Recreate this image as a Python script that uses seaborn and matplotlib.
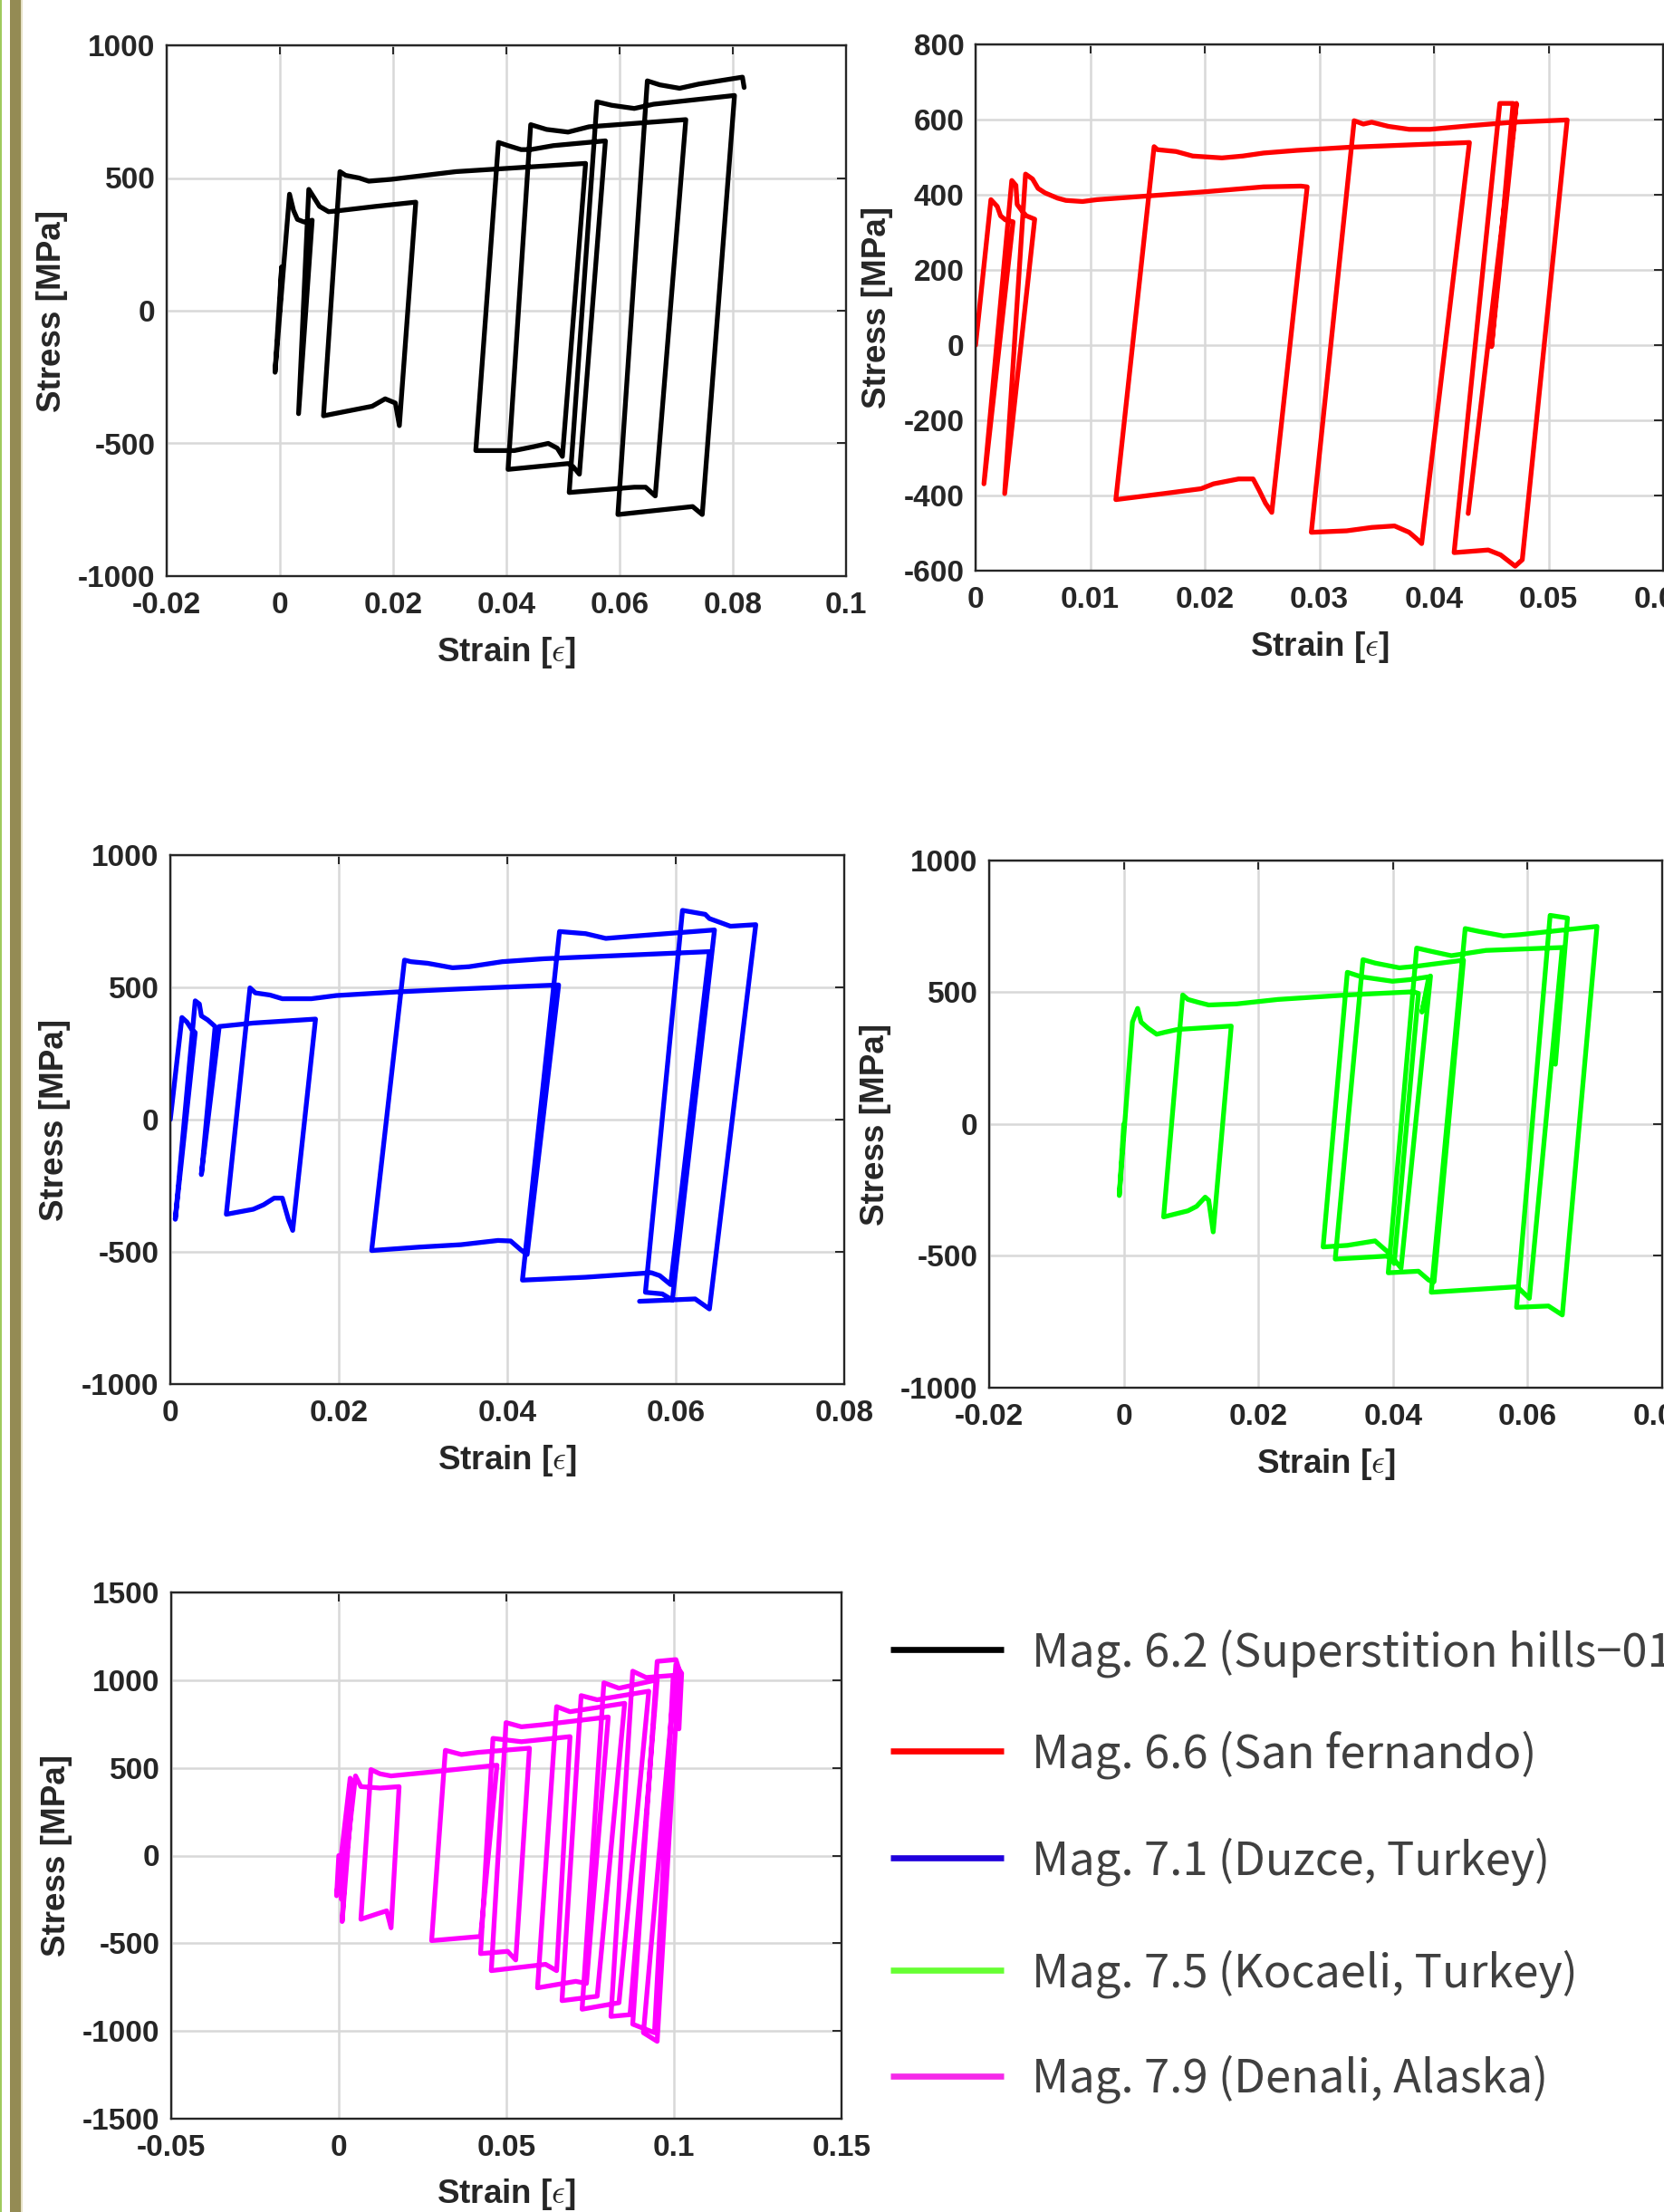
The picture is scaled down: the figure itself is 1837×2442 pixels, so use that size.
import matplotlib
matplotlib.use("Agg")
import matplotlib.pyplot as plt
import seaborn as sns
from matplotlib.ticker import FuncFormatter, MultipleLocator
from matplotlib.lines import Line2D
from matplotlib.patches import Rectangle

# ---------------------------------------------------------------------------
# Stress-strain hysteresis paths (strain [-], stress [MPa]) for each record
# ---------------------------------------------------------------------------
strain_m62 = [0, 0.0003, -0.00086, 0.0017, 0.0024, 0.0031, 0.0043, 0.0057, 0.0033, 0.0051,
              0.0060, 0.0070, 0.0086, 0.0101, 0.0169, 0.0240, 0.0211, 0.0204, 0.0186, 0.0163,
              0.0077, 0.0106, 0.0116, 0.0140, 0.0157, 0.0197, 0.0311, 0.0540, 0.0499, 0.0490,
              0.0474, 0.0449, 0.0414, 0.0346, 0.0386, 0.0403, 0.0426, 0.0443, 0.0483, 0.0575,
              0.0529, 0.0518, 0.0509, 0.0403, 0.0443, 0.0471, 0.0509, 0.0546, 0.0717, 0.0663,
              0.0646, 0.0626, 0.0511, 0.0560, 0.0586, 0.0626, 0.0660, 0.0803, 0.0746, 0.0729,
              0.0597, 0.0649, 0.0671, 0.0706, 0.0740, 0.0817, 0.0820]
stress_m62 = [0, 165, -232, 439, 378, 344, 334, 341, -388, 457,
              427, 393, 373, 376, 393, 409, -433, -348, -332, -360,
              -396, 524, 510, 500, 488, 495, 524, 555, -549, -518,
              -500, -512, -527, -527, 634, 622, 607, 607, 622, 640,
              -616, -588, -576, -598, 701, 683, 673, 693, 720, -698,
              -665, -665, -685, 787, 774, 762, 778, 811, -768, -738,
              -768, 866, 851, 838, 854, 880, 841]

strain_m66 = [0, 0.00134, 0.00189, 0.00218, 0.00261, 0.00327, 0.00073, 0.00316, 0.00352, 0.00363,
              0.00407, 0.00443, 0.00516, 0.00254, 0.00436, 0.00497, 0.00545, 0.00606, 0.00715, 0.00788,
              0.00933, 0.0106, 0.01423, 0.02004, 0.02513, 0.0284, 0.02894, 0.02585, 0.02531, 0.02476,
              0.02422, 0.02295, 0.02077, 0.01968, 0.01641, 0.01224, 0.01558, 0.01587, 0.0175, 0.01895,
              0.0215, 0.02331, 0.02513, 0.02803, 0.03239, 0.0431, 0.03893, 0.03849, 0.03784, 0.03656,
              0.03457, 0.03239, 0.0293, 0.03304, 0.03384, 0.03457, 0.03602, 0.03784, 0.03965, 0.04328,
              0.04691, 0.05163, 0.04771, 0.04709, 0.04637, 0.04582, 0.04474, 0.04176, 0.04575, 0.04691,
              0.04503, 0.0472, 0.04299]
stress_m66 = [0, 387, 369, 344, 333, 328, -369, 438, 425, 374,
              356, 344, 335, -395, 455, 442, 417, 405, 391, 385,
              382, 387, 395, 408, 421, 423, 421, -445, -421, -387,
              -356, -356, -369, -382, -395, -411, 528, 520, 515, 503,
              498, 503, 511, 518, 526, 539, -528, -515, -498, -481,
              -485, -494, -498, 597, 588, 593, 582, 574, 574, 584,
              593, 599, -571, -588, -571, -558, -545, -552, 643, 643,
              -4, 643, -448]

strain_m71 = [0, 0.00138, 0.00197, 0.00256, 0.00296, 0.00059, 0.00296, 0.00345, 0.00369, 0.00443,
              0.00532, 0.00369, 0.00581, 0.00985, 0.01724, 0.01453, 0.01404, 0.0133, 0.01232, 0.01108,
              0.00985, 0.00665, 0.00946, 0.0101, 0.01182, 0.0133, 0.01675, 0.0197, 0.0271, 0.0345,
              0.0461, 0.04236, 0.04163, 0.0404, 0.0389, 0.0345, 0.0296, 0.0239, 0.0278, 0.02857,
              0.03054, 0.0335, 0.03547, 0.0394, 0.0443, 0.0640, 0.0594, 0.0581, 0.0571, 0.0493,
              0.0418, 0.0462, 0.0493, 0.0517, 0.0552, 0.0646, 0.0596, 0.0584, 0.0564, 0.0608,
              0.0635, 0.0640, 0.0665, 0.0695, 0.0640, 0.0623, 0.0557]
stress_m71 = [0, 386, 369, 340, 329, -377, 449, 437, 392, 377,
              352, -208, 352, 365, 380, -419, -379, -297, -297, -322,
              -339, -358, 498, 479, 471, 457, 457, 469, 483, 494,
              509, -510, -493, -459, -457, -473, -482, -495, 603, 597,
              591, 574, 578, 597, 608, 635, -624, -590, -579, -596,
              -607, 711, 703, 685, 694, 717, -682, -659, -653, 791,
              776, 760, 731, 737, -716, -678, -687]

strain_m75 = [0, -0.00067, 0.00129, 0.00206, 0.00258, 0.0036, 0.00489, 0.00618, 0.00798, 0.01597,
              0.01329, 0.01262, 0.0121, 0.01082, 0.00953, 0.00592, 0.00876, 0.00953, 0.01107, 0.01262,
              0.01674, 0.02292, 0.03322, 0.043, 0.04378, 0.04018, 0.0394, 0.03734, 0.03322, 0.02962,
              0.03322, 0.03528, 0.03992, 0.04249, 0.04533, 0.0443, 0.04558, 0.0412, 0.03992, 0.03889,
              0.03142, 0.03554, 0.03734, 0.04095, 0.04352, 0.05048, 0.0461, 0.04533, 0.04378, 0.0393,
              0.04352, 0.04558, 0.04867, 0.05022, 0.05382, 0.06516, 0.06026, 0.05846, 0.04569, 0.05073,
              0.05279, 0.0564, 0.05898, 0.07031, 0.06516, 0.0631, 0.05836, 0.06335, 0.06593, 0.06413]
stress_m75 = [0, -271, 387, 439, 387, 364, 341, 349, 359, 372,
              -409, -289, -277, -312, -329, -352, 490, 473, 462, 452,
              456, 473, 490, 502, 496, -529, -489, -443, -460, -466,
              576, 559, 542, 548, 559, 425, 562, -546, -506, -501,
              -512, 624, 611, 593, 599, 622, -598, -592, -558, -564,
              668, 656, 639, 645, 659, 670, -661, -617, -638, 742,
              731, 714, 719, 750, -724, -690, -695, 792, 782, 227]

strain_m79 = [0, -0.00065, 0.0034, 0.0042, 0.001, 0.0035, 0.0008, 0.005, 0.0066, 0.0123,
              0.018, 0.0156, 0.0143, 0.0123, 0.0066, 0.0096, 0.0123, 0.0156, 0.0285, 0.0472,
              0.0423, 0.0277, 0.0318, 0.0366, 0.0415, 0.0569, 0.0528, 0.0504, 0.0423, 0.046,
              0.0545, 0.069, 0.065, 0.0617, 0.0455, 0.0499, 0.0545, 0.0609, 0.0804, 0.0739,
              0.0707, 0.0593, 0.065, 0.069, 0.0853, 0.0771, 0.0666, 0.0723, 0.0771, 0.0925,
              0.0836, 0.0726, 0.0791, 0.0836, 0.095, 0.0869, 0.0812, 0.0877, 0.0917, 0.0998,
              0.0942, 0.0877, 0.095, 0.1006, 0.1015, 0.095, 0.0909, 0.1006, 0.1023, 0.1015]
stress_m79 = [0, -229, 441, 393, -376, 430, -250, 454, 393, 385,
              393, -412, -315, -327, -363, 490, 466, 454, 478, 515,
              -461, -485, 600, 576, 588, 612, -595, -546, -559, 668,
              649, 678, -656, -620, -656, 758, 734, 746, 790, -729,
              -717, -754, 849, 820, 868, -802, -827, 912, 888, 937,
              -839, -876, 985, 954, 1002, -907, -917, 1051, 1015, 1027,
              -1010, -961, 1107, 1117, 1063, -1059, -1010, 1088, 1039, 722]

legend_labels = ["Mag. 6.2 (Superstition hills\u221201)",
                 "Mag. 6.6 (San fernando)",
                 "Mag. 7.1 (Duzce, Turkey)",
                 "Mag. 7.5 (Kocaeli, Turkey)",
                 "Mag. 7.9 (Denali, Alaska)"]
legend_colors = ["#000000", "#ff0000", "#1f00dc", "#66ff33", "#f52ae9"]

# ---------------------------------------------------------------------------
sns.set_style("white")
plt.rcParams["font.family"] = ["Liberation Sans", "DejaVu Sans"]
plt.rcParams["font.weight"] = "bold"
plt.rcParams["mathtext.fontset"] = "cm"

W, H, DPI = 1837, 2442, 100
fig = plt.figure(figsize=(W / DPI, H / DPI), dpi=DPI, facecolor="white")

INK = "#262626"


def fmt(v, _):
    if abs(v) < 1e-12:
        return "0"
    return f"{round(v, 6):g}"


panels = [
    dict(box=(184, 50, 934, 636), x=strain_m62, y=stress_m62, color="#000000",
         xlim=(-0.02, 0.1), xstep=0.02, ylim=(-1000, 1000), ystep=500, yoff=126),
    dict(box=(1077, 49, 1836, 630), x=strain_m66, y=stress_m66, color="#ff0000",
         xlim=(0, 0.06), xstep=0.01, ylim=(-600, 800), ystep=200, yoff=109),
    dict(box=(188, 944, 932, 1528), x=strain_m71, y=stress_m71, color="#0000ff",
         xlim=(0, 0.08), xstep=0.02, ylim=(-1000, 1000), ystep=500, yoff=127),
    dict(box=(1092, 950, 1835, 1532), x=strain_m75, y=stress_m75, color="#00ff00",
         xlim=(-0.02, 0.08), xstep=0.02, ylim=(-1000, 1000), ystep=500, yoff=126),
    dict(box=(189, 1758, 929, 2339), x=strain_m79, y=stress_m79, color="#ff00ff",
         xlim=(-0.05, 0.15), xstep=0.05, ylim=(-1500, 1500), ystep=500, yoff=127),
]

for p in panels:
    l, t, r, b = p["box"]
    ax = fig.add_axes([l / W, 1 - b / H, (r - l) / W, (b - t) / H])
    ax.set_facecolor("white")
    sns.lineplot(x=p["x"], y=p["y"], sort=False, estimator=None, color=p["color"],
                 lw=3.8, ax=ax)
    ax.set_xlim(*p["xlim"])
    ax.set_ylim(*p["ylim"])
    ax.xaxis.set_major_locator(MultipleLocator(p["xstep"]))
    ax.yaxis.set_major_locator(MultipleLocator(p["ystep"]))
    ax.xaxis.set_major_formatter(FuncFormatter(fmt))
    ax.yaxis.set_major_formatter(FuncFormatter(fmt))
    ax.set_axisbelow(True)
    ax.grid(True, color="#d8d8d8", lw=1.8)
    for s in ax.spines.values():
        s.set_color(INK)
        s.set_linewidth(1.7)
    ax.tick_params(direction="in", top=True, right=True, length=7, width=1.4,
                   color=INK, labelcolor=INK, labelsize=24)
    ax.tick_params(axis="x", pad=12)
    ax.tick_params(axis="y", pad=9)
    ax.set_xlabel(r"Strain [$\epsilon$]", fontsize=26.5, fontweight="bold", color=INK)
    ax.set_ylabel("Stress [MPa]", fontsize=26.5, fontweight="bold", color=INK)
    ax.xaxis.label.set_va("center")
    ax.yaxis.label.set_va("center")
    ax.xaxis.set_label_coords(0.5, -84 / (b - t))
    ax.yaxis.set_label_coords(-p["yoff"] / (r - l), 0.5)

# Legend block in the lower-right cell
leg_rows = [1821, 1933, 2051, 2175, 2292]
for lab, col, yy in zip(legend_labels, legend_colors, leg_rows):
    fig.add_artist(Line2D([983 / W, 1108 / W], [1 - yy / H, 1 - yy / H],
                          color=col, lw=4.8, solid_capstyle="butt"))
    fig.text(1139 / W, 1 - (yy + 18) / H, lab, fontsize=36.5, fontweight="normal",
             color="#404040", va="baseline", ha="left",
             family=["Noto Sans CJK KR", "DejaVu Sans"])

# Slide edge decoration on the left
fig.add_artist(Rectangle((0, 0), 2 / W, 1, transform=fig.transFigure,
                         color="#9fca5e", lw=0))
fig.add_artist(Rectangle((11 / W, 0), 12 / W, 1, transform=fig.transFigure,
                         color="#948b54", lw=0))
fig.add_artist(Rectangle((23 / W, 0), 2 / W, 1, transform=fig.transFigure,
                         color="#e6e1c6", lw=0))

fig.savefig("out.png", dpi=DPI, facecolor="white")
